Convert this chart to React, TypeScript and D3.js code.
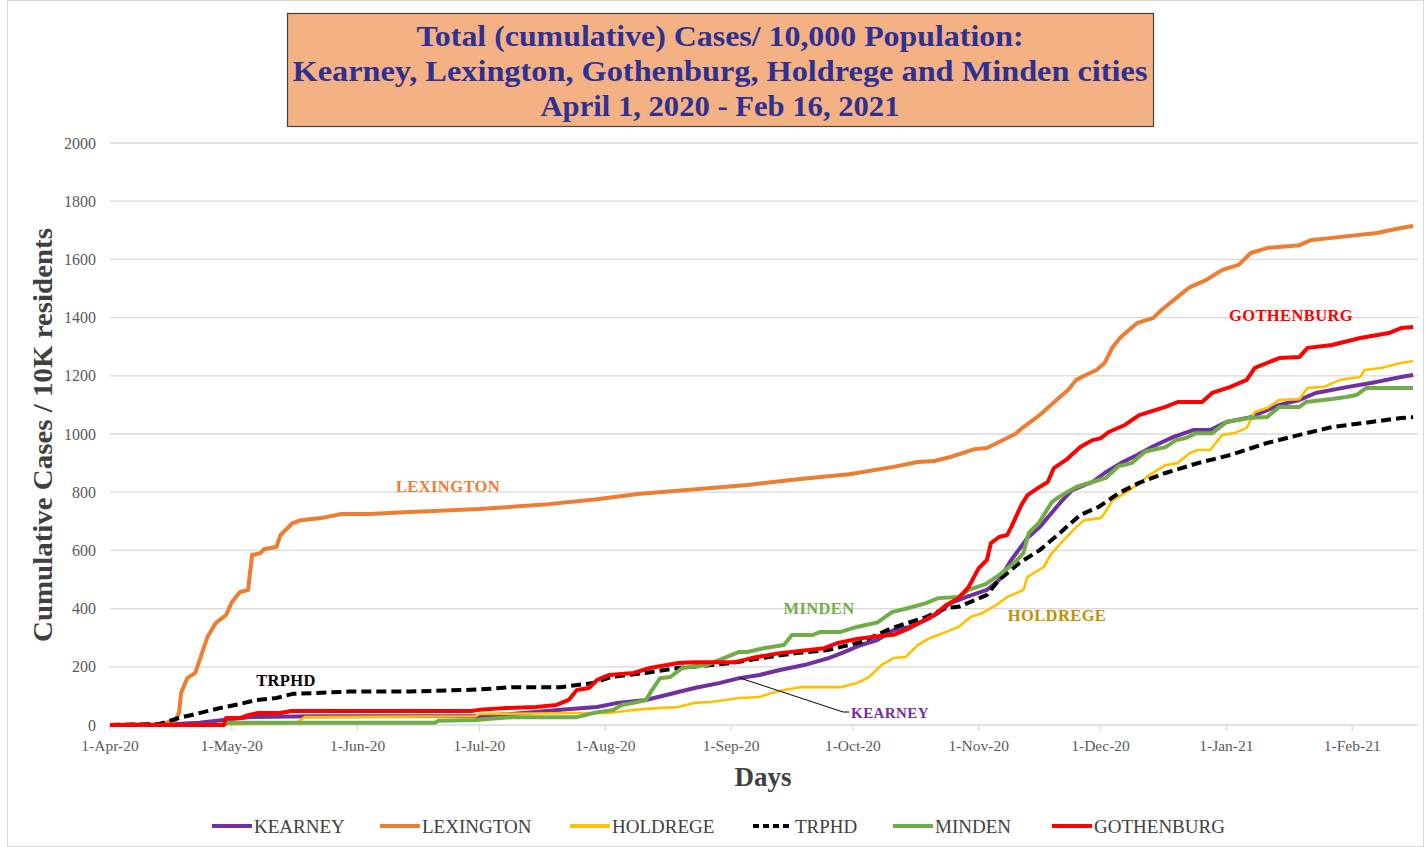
import * as d3 from 'd3';
import React from 'react';

// days since 1-Apr-20, cumulative cases per 10K
const kearney: [number, number][] = [
  [0, 0], [14, 2], [22, 8], [28, 17], [34, 27], [50, 30], [91, 31], [99, 38], [111, 52], [120, 62],
  [125, 76], [132, 86], [137, 103], [144, 127], [150, 144], [155, 161], [160, 172], [165, 189],
  [171, 206], [177, 230], [181, 251], [185, 275], [189, 292], [193, 326], [197, 337], [201, 361],
  [204, 385], [207, 419], [211, 440], [216, 464], [219, 498], [222, 567], [226, 643], [229, 680],
  [234, 763], [237, 807], [242, 835], [245, 866], [249, 900], [253, 928], [257, 958], [262, 990],
  [267, 1014], [271, 1014], [275, 1041], [281, 1058], [288, 1100], [293, 1117], [297, 1141],
  [305, 1162], [312, 1179], [318, 1196], [321, 1203],
];

const lexington: [number, number][] = [
  [0, 0], [12, 2], [16, 15], [17, 41], [17.5, 110], [19, 161], [21, 179], [24, 302], [26, 350],
  [28.6, 378], [30, 422], [32, 457], [34, 464], [35, 584], [37, 590], [38, 605], [41, 612], [42, 653],
  [45, 694], [47, 704], [52, 711], [57, 725], [64, 725], [71, 730], [91, 742], [108, 759], [120, 776],
  [130, 794], [145, 811], [157, 825], [170, 845], [182, 862], [184, 866], [193, 887], [199, 904],
  [203, 907], [207, 921], [213, 948], [216, 952], [223, 1000], [225, 1024], [229, 1065], [234, 1127],
  [236, 1151], [238, 1186], [240, 1200], [243, 1220], [245, 1244], [247, 1299], [249, 1333],
  [253, 1381], [257, 1399], [259, 1426], [262, 1460], [266, 1505], [270, 1529], [274, 1564],
  [278, 1581], [281, 1622], [285, 1639], [293, 1649], [296, 1667], [301, 1674], [312, 1691],
  [318, 1708], [321, 1715],
];

const holdrege: [number, number][] = [
  [0, 0], [30, 3], [46, 8], [48, 27], [90, 30], [91, 38], [115, 41], [123, 41], [129, 52], [135, 58],
  [140, 62], [144, 76], [148, 79], [155, 93], [160, 96], [163, 110], [166, 120], [170, 130], [180, 130],
  [184, 144], [187, 165], [190, 206], [193, 230], [196, 234], [199, 275], [202, 299], [206, 320],
  [209, 337], [212, 371], [215, 385], [219, 419], [221, 440], [225, 464], [226, 509], [230, 543],
  [232, 591], [235, 636], [238, 680], [240, 704], [244, 711], [245, 728], [247, 773], [250, 797],
  [253, 825], [256, 859], [260, 893], [263, 900], [266, 935], [268, 945], [271, 945], [274, 997],
  [277, 1003], [280, 1021], [282, 1076], [285, 1089], [288, 1117], [293, 1120], [295, 1158],
  [299, 1162], [303, 1186], [308, 1196], [309, 1220], [313, 1227], [318, 1244], [321, 1251],
];

const trphd: [number, number][] = [
  [0, 0], [12, 3], [17, 24], [22, 41], [27, 58], [32, 72], [36, 86], [41, 93], [45, 107], [51, 110],
  [59, 115], [74, 115], [91, 122], [99, 130], [111, 130], [119, 144], [123.5, 165], [132, 179],
  [140, 196], [148, 206], [153, 213], [160.5, 230], [169, 247], [177, 258], [185, 285], [192.6, 333],
  [201, 371], [206, 402], [209, 406], [212, 423], [216, 447], [219, 498], [224, 557], [229, 601],
  [234, 660], [239, 722], [243.6, 750], [248.5, 797], [253.5, 832], [260, 866], [268, 900],
  [276, 928], [285, 969], [293, 997], [301, 1024], [309, 1038], [318, 1055], [321, 1058],
];

const minden: [number, number][] = [
  [0, 0], [28, 0], [29, 8], [80, 8], [81, 15], [90, 17], [99, 27], [115, 27], [119, 41], [124, 52],
  [126, 69], [129, 76], [132, 86], [133.5, 120], [135.5, 161], [138, 165], [141, 196], [147, 206],
  [150, 223], [155, 251], [157, 251], [161, 264], [166, 275], [168, 309], [173, 309], [175, 320],
  [180, 320], [184, 337], [189, 352], [192.6, 388], [196.7, 402], [201, 419], [204, 436], [209, 440],
  [211.5, 464], [215.7, 484], [219, 515], [223, 560], [225, 591], [226.3, 660], [228.8, 694],
  [232, 766], [233.7, 783], [238, 818], [242, 835], [245.3, 849], [248.5, 890], [251.7, 900],
  [255, 940], [260, 955], [262.6, 979], [265, 986], [267.5, 1003], [271.5, 1003], [275, 1041],
  [280.6, 1055], [285, 1058], [288, 1093], [293, 1093], [294.6, 1110], [301, 1120], [304.5, 1127],
  [307, 1134], [309.4, 1158], [321, 1158],
];

const gothenburg: [number, number][] = [
  [0, 0], [28, 0], [28.6, 24], [32, 24], [34, 34], [36.5, 41], [42, 41], [44.6, 48], [89, 48],
  [91, 52], [97, 58], [105, 62], [110, 69], [113, 86], [115, 120], [118, 127], [120, 155], [123, 172],
  [129, 179], [133, 196], [140, 213], [144, 216], [154, 216], [158, 230], [165, 247], [176, 264],
  [179, 281], [184, 296], [189, 305], [193, 310], [197, 333], [203, 378], [206, 412], [209, 436],
  [211.5, 474], [214, 539], [216, 567], [217, 625], [219, 646], [221, 653], [222, 680], [224.5, 756],
  [226, 790], [229, 818], [231, 835], [232.5, 883], [235.5, 911], [239, 955], [242, 979], [244, 985],
  [246, 1007], [250, 1031], [253.5, 1065], [260, 1093], [263, 1110], [269, 1110], [271.5, 1141],
  [276, 1162], [280, 1186], [282, 1227], [285, 1244], [288, 1261], [293, 1265], [295, 1296],
  [301, 1306], [308, 1330], [315, 1347], [318, 1364], [321, 1368],
];

const seriesNames = ['KEARNEY', 'LEXINGTON', 'HOLDREGE', 'TRPHD', 'MINDEN', 'GOTHENBURG'];
const seriesData = [kearney, lexington, holdrege, trphd, minden, gothenburg];
const seriesColors = ['#7030A0', '#ED7D31', '#FFC000', '#000000', '#70AD47', '#FF0000'];

const yTicks = [0, 200, 400, 600, 800, 1000, 1200, 1400, 1600, 1800, 2000];
const monthTicks = [
  '2020-04-01', '2020-05-01', '2020-06-01', '2020-07-01', '2020-08-01', '2020-09-01',
  '2020-10-01', '2020-11-01', '2020-12-01', '2021-01-01', '2021-02-01',
];

const titleLines = [
  'Total (cumulative) Cases/ 10,000 Population:',
  'Kearney, Lexington, Gothenburg, Holdrege and Minden cities',
  'April 1, 2020 - Feb 16, 2021',
];
const titleWidths = [607, 855, 359];

const FONT = '"Liberation Serif", "DejaVu Serif", serif';
const DAY = 864e5;

export default function App() {
  const width = 1425, height = 847;
  const start = new Date(Date.UTC(2020, 3, 1));
  const x = d3.scaleUtc()
    .domain([start, new Date(start.getTime() + 322.2 * DAY)])
    .range([110, 1418]);
  const y = d3.scaleLinear().domain([0, 2000]).range([725, 143]);
  const toDate = (d: number) => new Date(start.getTime() + d * DAY);
  const line = d3.line<[number, number]>()
    .x(d => x(toDate(d[0])))
    .y(d => y(d[1]));
  const fmt = d3.utcFormat('%-d-%b-%y');
  const parse = d3.utcParse('%Y-%m-%d');

  // legend placement
  const legendX = [212, 380, 570, 753, 893, 1052];

  return (
    <svg width={width} height={height} style={{ position: 'absolute', left: 0, top: 0, background: '#fff' }}
      fontFamily={FONT}>
      <rect x={7.5} y={0.5} width={1416} height={846} fill="#fff" stroke="#d9d9d9" />

      {/* grid */}
      {yTicks.map(t => (
        <g key={t}>
          <line x1={110} x2={1418} y1={y(t)} y2={y(t)} stroke="#d9d9d9" strokeWidth={1.3} />
          <text x={96} y={y(t)} dy="0.35em" textAnchor="end" fontSize={16} fill="#595959">{t}</text>
        </g>
      ))}
      {monthTicks.map(m => {
        const px = x(parse(m) as Date);
        return (
          <g key={m}>
            <line x1={px} x2={px} y1={725} y2={731} stroke="#d9d9d9" strokeWidth={1.3} />
            <text x={px} y={751} textAnchor="middle" fontSize={15.5} fill="#595959">{fmt(parse(m) as Date)}</text>
          </g>
        );
      })}

      {/* series */}
      {seriesData.map((s, i) => (
        <path key={seriesNames[i]} d={line(s) || ''} fill="none" stroke={seriesColors[i]}
          strokeWidth={seriesNames[i] === 'HOLDREGE' ? 2.6 : 4}
          strokeDasharray={seriesNames[i] === 'TRPHD' ? '10 5' : undefined}
          strokeLinejoin="round" />
      ))}

      {/* data labels */}
      <g fontWeight="bold" fontSize={16.5} textAnchor="middle" letterSpacing={0.4}>
        <text x={448} y={492} fill="#ED7D31">LEXINGTON</text>
        <text x={286} y={686} fill="#000">TRPHD</text>
        <text x={819} y={614} fill="#70AD47">MINDEN</text>
        <text x={1057} y={621} fill="#BF9000">HOLDREGE</text>
        <text x={890} y={718} fill="#7030A0" fontSize={15}>KEARNEY</text>
        <text x={1291} y={321} fill="#FF0000">GOTHENBURG</text>
      </g>
      <polyline points="740,678 843,712 849,712" fill="none" stroke="#000" strokeWidth={1} />

      {/* title */}
      <rect x={287.5} y={13.5} width={866} height={113} fill="#F4B183" stroke="#404040" strokeWidth={1.2} />
      <g fontWeight="bold" fontSize={30} fill="#2E3192" textAnchor="middle">
        {titleLines.map((t, i) => (
          <text key={i} x={720} y={46 + i * 35} textLength={titleWidths[i]}
            lengthAdjust="spacingAndGlyphs">{t}</text>
        ))}
      </g>

      {/* axis titles */}
      <text transform="translate(52,435) rotate(-90)" textAnchor="middle" fontWeight="bold"
        fontSize={28} fill="#404040" textLength={414} lengthAdjust="spacingAndGlyphs">
        Cumulative Cases / 10K residents</text>
      <text x={763} y={786} textAnchor="middle" fontWeight="bold" fontSize={27} fill="#404040">Days</text>

      {/* legend */}
      {seriesNames.map((n, i) => (
        <g key={n} transform={`translate(${legendX[i]},826)`}>
          <line x1={0} x2={40} y1={0} y2={0} stroke={seriesColors[i]} strokeWidth={4}
            strokeDasharray={n === 'TRPHD' ? '6 4' : undefined} />
          <text x={42} y={0} dy="0.35em" fontSize={19} fill="#404040">{n}</text>
        </g>
      ))}
    </svg>
  );
}
